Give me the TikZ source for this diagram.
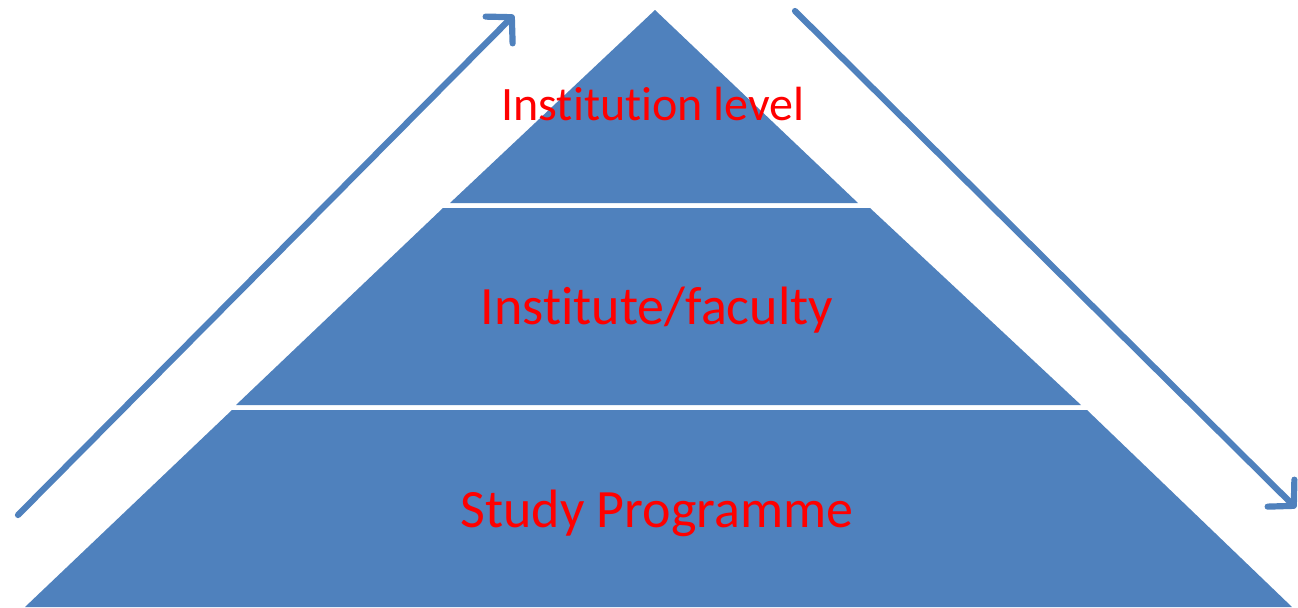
\documentclass[tikz,border=0pt]{standalone}
\usepackage{fontspec}
\setmainfont[Ligatures=NoCommon]{Carlito}
\usetikzlibrary{arrows.meta}
\definecolor{pyrblue}{HTML}{4F81BD}
\definecolor{txtred}{HTML}{FF0000}
\tikzset{
  seg/.style={fill=pyrblue},
  lbl/.style={text=txtred, inner sep=0pt, anchor=base},
  flow/.style={draw=pyrblue, line width=3.1pt, line cap=round, line join=round,
    -{Straight Barb[length=9pt,width=19pt,line cap=round,line join=round]}}
}
\begin{document}
\begin{tikzpicture}[x=0.5pt,y=-0.5pt]
\useasboundingbox[fill=white] (0,0) rectangle (1298,607);
% pyramid segments
\fill[seg] (655,10) -- (858,203) -- (450,203) -- cycle;
\fill[seg] (443,208) -- (870,208) -- (1081,405) -- (236,405) -- cycle;
\fill[seg] (232,410) -- (1087,410) -- (1292,607) -- (25,607) -- cycle;
% labels
\node[lbl, font=\fontsize{24}{28}\selectfont] (top) at (653,120) {Institution level};
\node[lbl, font=\fontsize{27}{32}\selectfont] (mid) at (657,324) {Institute/faculty};
\node[lbl, font=\fontsize{27}{32}\selectfont] (bot) at (657,527) {Study Programme};
% arrows
\coordinate (la) at (18,515);
\coordinate (lb) at (514,15);
\coordinate (ra) at (795,11);
\coordinate (rb) at (1296,508);
\draw[flow] (la) -- (lb);
\draw[flow] (ra) -- (rb);
\end{tikzpicture}
\end{document}
